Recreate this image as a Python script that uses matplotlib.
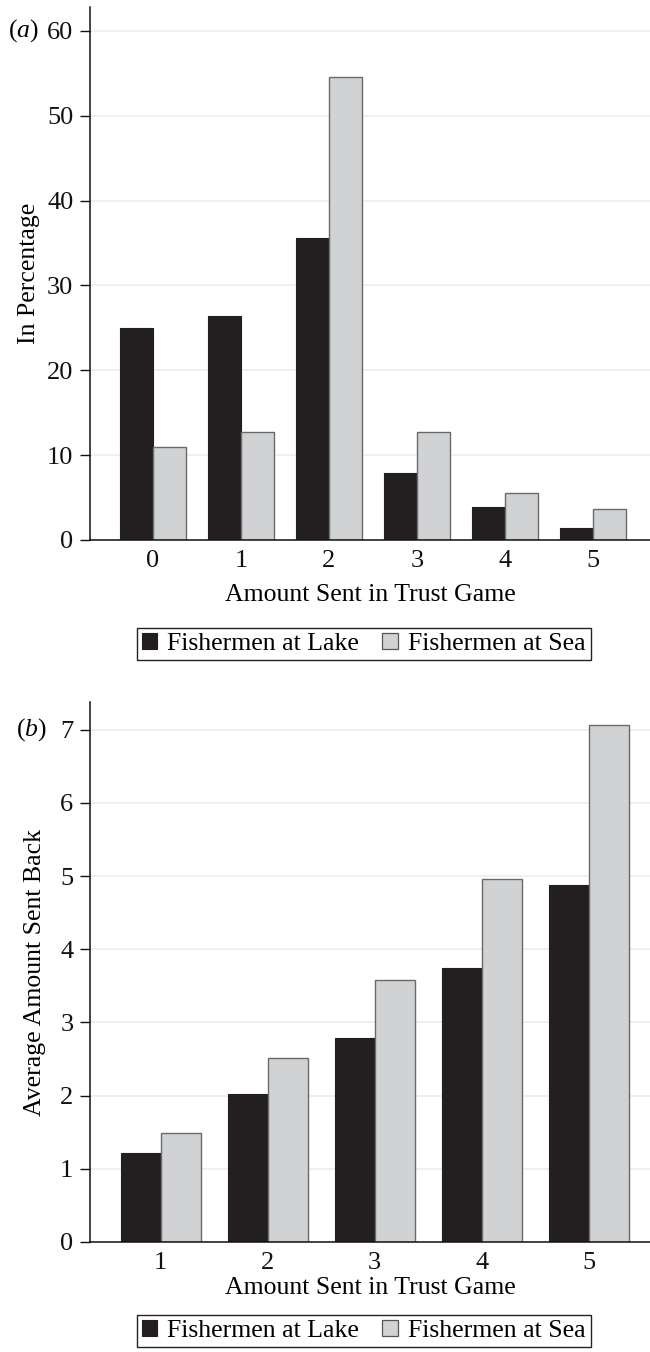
import matplotlib
matplotlib.use("Agg")
import matplotlib.pyplot as plt
from matplotlib.patches import Patch
import numpy as np

# Panel (a): share of each amount sent, in percent
sent_a = [0, 1, 2, 3, 4, 5]
lake_pct = [25.0, 26.4, 35.6, 7.9, 3.9, 1.4]
sea_pct = [10.9, 12.7, 54.5, 12.7, 5.5, 3.6]

# Panel (b): average amount returned per amount sent
sent_b = [1, 2, 3, 4, 5]
lake_back = [1.22, 2.02, 2.79, 3.74, 4.88]
sea_back = [1.49, 2.51, 3.58, 4.96, 7.06]

series = ["Fishermen at Lake", "Fishermen at Sea"]
LAKE = "#231f20"
SEA = "#d1d2d4"

plt.rcParams["font.family"] = ["Liberation Serif", "DejaVu Serif"]
plt.rcParams["mathtext.fontset"] = "custom"
plt.rcParams["mathtext.rm"] = "Liberation Serif"
plt.rcParams["mathtext.it"] = "Liberation Serif:italic"

fig = plt.figure(figsize=(6.5, 13.52), dpi=100)
W, H = 650.0, 1352.0
FS = 18.5


def px_axes(left, top, right, bottom):
    return fig.add_axes([left / W, 1 - bottom / H, (right - left) / W, (bottom - top) / H])


def style(ax, ymax, yticks):
    for s in ("top", "right"):
        ax.spines[s].set_visible(False)
    for s in ("left", "bottom"):
        ax.spines[s].set_linewidth(1.1)
        ax.spines[s].set_color("#111111")
    ax.set_ylim(0, ymax)
    ax.set_yticks(yticks)
    ax.yaxis.grid(True, color="#ececec", lw=1.2)
    ax.set_axisbelow(True)
    ax.tick_params(axis="y", length=7, width=1.0, pad=5, labelsize=FS + 0.5, colors="#111111")
    ax.tick_params(axis="x", length=0, pad=7, labelsize=FS + 0.5, colors="#111111")


def bars(ax, x, lake, sea, w):
    x = np.asarray(x, dtype=float)
    ax.bar(x - w / 2, lake, w, color=LAKE, edgecolor=LAKE, lw=0.8, zorder=2)
    ax.bar(x + w / 2, sea, w, color=SEA, edgecolor="#6a6a6a", lw=1.0, zorder=2)


def legend(y_top):
    handles = [Patch(facecolor=LAKE, edgecolor=LAKE, lw=0.8),
               Patch(facecolor=SEA, edgecolor="#555555", lw=0.9)]
    fig.legend(handles, series, loc="upper center",
               bbox_to_anchor=(363.8 / W, 1 - y_top / H), ncol=2,
               fontsize=FS, frameon=True, fancybox=False, edgecolor="#222222",
               framealpha=1, handlelength=0.6, handleheight=0.6,
               handletextpad=0.4, columnspacing=0.9, borderpad=0.2,
               borderaxespad=0)
    fig.legends[-1].get_frame().set_linewidth(1.0)


# (a)
ax1 = px_axes(90, 7, 650, 540)
bars(ax1, sent_a, lake_pct, sea_pct, 0.38)
ax1.set_xlim(-0.716, 5.648)
ax1.set_xticks(sent_a)
style(ax1, 62.8, [0, 10, 20, 30, 40, 50, 60])
ax1.set_xlabel("Amount Sent in Trust Game", fontsize=FS, labelpad=9)
ax1.set_ylabel("In Percentage", fontsize=FS, labelpad=5)
fig.text(8 / W, 1 - 31 / H, r"($\mathit{a}$)", fontsize=FS, va="center", ha="left")
legend(628)

# (b)
ax2 = px_axes(90, 702, 650, 1242)
bars(ax2, sent_b, lake_back, sea_back, 0.374)
ax2.set_xlim(0.339, 5.573)
ax2.set_xticks(sent_b)
style(ax2, 7.38, range(8))
ax2.set_xlabel("Amount Sent in Trust Game", fontsize=FS, labelpad=2)
ax2.set_ylabel("Average Amount Sent Back", fontsize=FS, labelpad=10)
fig.text(16 / W, 1 - 730 / H, r"($\mathit{b}$)", fontsize=FS, va="center", ha="left")
legend(1315)

fig.savefig("out.png", dpi=100)
